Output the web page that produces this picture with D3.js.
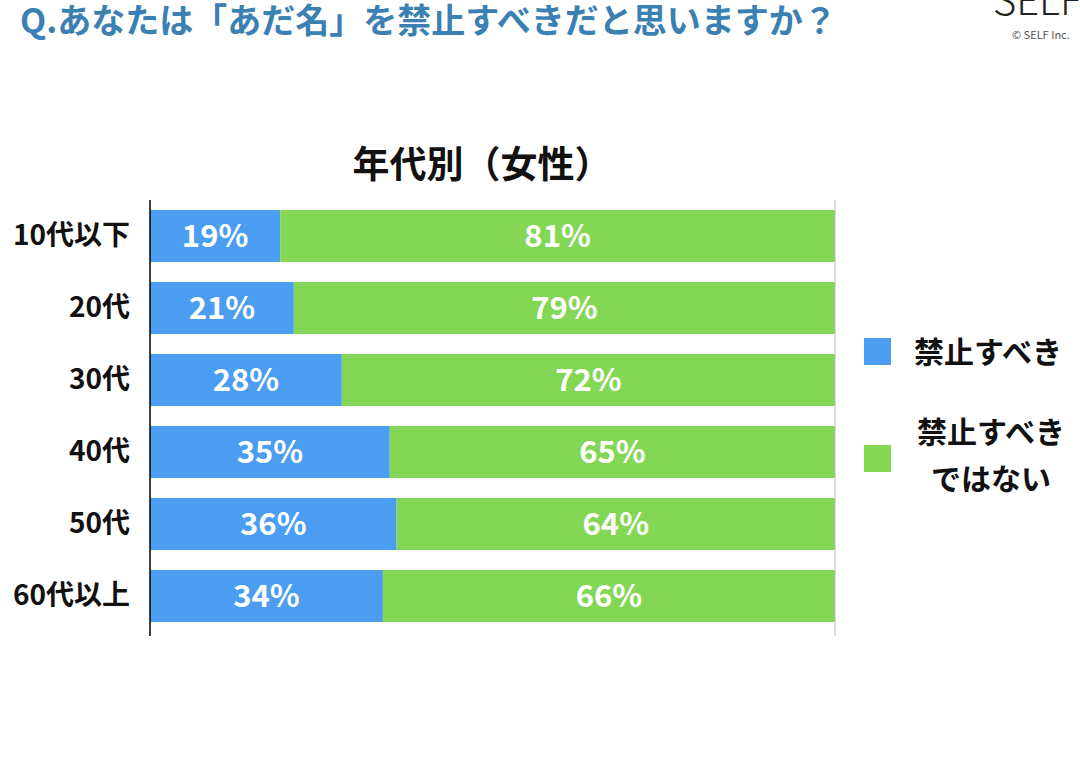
<!DOCTYPE html>
<html>
<head>
<meta charset="utf-8">
<script src="https://cdn.jsdelivr.net/npm/d3@7"></script>
<style>
  body { margin: 0; background: #fff; }
  text { font-family: "Noto Sans CJK JP", "Noto Sans", sans-serif; }
</style>
</head>
<body>
<div id="chart"></div>
<script>
// data
var categories = ["10代以下", "20代", "30代", "40代", "50代", "60代以上"];
var yesValues = [19, 21, 28, 35, 36, 34];   // 禁止すべき
var noValues = [81, 79, 72, 65, 64, 66];    // 禁止すべきではない
var seriesNames = ["禁止すべき", "禁止すべきではない"];
var colors = ["#4a9df1", "#84d655"];

var width = 1080, height = 765;

var svg = d3.select("#chart").append("svg")
    .attr("width", width).attr("height", height);

// header question
svg.append("text").attr("x", 20).attr("y", 33)
    .attr("fill", "#3b80b3").attr("font-size", 34).attr("font-weight", 700)
    .text("Q.あなたは「あだ名」を禁止すべきだと思いますか？");

// logo (cut off at the edge)
svg.append("text").attr("x", 993).attr("y", 15)
    .attr("fill", "#222").attr("font-size", 40).attr("font-weight", 300)
    .attr("font-family", "Liberation Sans, sans-serif")
    .text("SELF");
svg.append("text").attr("x", 1012).attr("y", 39)
    .attr("fill", "#555").attr("font-size", 11)
    .attr("font-family", "Liberation Sans, sans-serif")
    .text("© SELF Inc.");

// chart title
svg.append("text").attr("x", 482).attr("y", 178)
    .attr("text-anchor", "middle").attr("font-size", 37).attr("font-weight", 700)
    .attr("fill", "#111")
    .text("年代別（女性）");

var x = d3.scaleLinear().domain([0, 100]).range([150, 835]);
var y = d3.scaleBand().domain(categories).range([200, 632])
    .paddingInner(0.278).paddingOuter(0.139);

var rows = categories.map(function(c, i) {
    return { cat: c, yes: yesValues[i], no: noValues[i] };
});
var stack = d3.stack().keys(["yes", "no"])(rows);

var groups = svg.selectAll("g.series").data(stack).enter()
    .append("g").attr("class", "series")
    .attr("fill", function(d, i) { return colors[i]; });

groups.selectAll("rect").data(function(d) { return d; }).enter()
    .append("rect")
    .attr("x", function(d) { return x(d[0]); })
    .attr("y", function(d) { return y(d.data.cat); })
    .attr("width", function(d) { return x(d[1]) - x(d[0]); })
    .attr("height", y.bandwidth());

groups.selectAll("text").data(function(d) { return d; }).enter()
    .append("text")
    .attr("x", function(d) { return (x(d[0]) + x(d[1])) / 2; })
    .attr("y", function(d) { return y(d.data.cat) + y.bandwidth() / 2; })
    .attr("dy", "0.36em")
    .attr("text-anchor", "middle")
    .attr("fill", "#fff").attr("font-size", 31).attr("font-weight", 700)
    .attr("font-family", "Lato, 'Noto Sans', sans-serif")
    .text(function(d) { return (d[1] - d[0]) + "%"; });

// right grey edge
svg.append("line").attr("x1", x(100)).attr("x2", x(100))
    .attr("y1", 200).attr("y2", 636)
    .attr("stroke", "#bbb").attr("stroke-width", 1);

// left axis
var axis = svg.append("g").attr("transform", "translate(" + x(0) + ",0)")
    .call(d3.axisLeft(y).tickSize(0).tickPadding(20));
axis.select(".domain").attr("stroke", "#000").attr("stroke-width", 1.5)
    .attr("d", "M0,200V636");
axis.selectAll(".tick text")
    .attr("font-size", 28).attr("font-weight", 700).attr("fill", "#111")
    .attr("font-family", "'Noto Sans CJK JP', sans-serif");

// legend
var legend = svg.append("g");
legend.append("rect").attr("x", 864).attr("y", 338).attr("width", 27).attr("height", 27)
    .attr("fill", colors[0]);
legend.append("text").attr("x", 914).attr("y", 352).attr("dy", "0.36em")
    .attr("font-size", 30).attr("font-weight", 700).attr("fill", "#111")
    .text(seriesNames[0]);
legend.append("rect").attr("x", 864).attr("y", 445).attr("width", 27).attr("height", 27)
    .attr("fill", colors[1]);
legend.append("text").attr("x", 991).attr("y", 432).attr("dy", "0.36em")
    .attr("text-anchor", "middle")
    .attr("font-size", 30).attr("font-weight", 700).attr("fill", "#111")
    .text("禁止すべき");
legend.append("text").attr("x", 991).attr("y", 479).attr("dy", "0.36em")
    .attr("text-anchor", "middle")
    .attr("font-size", 30).attr("font-weight", 700).attr("fill", "#111")
    .text("ではない");
</script>
</body>
</html>
